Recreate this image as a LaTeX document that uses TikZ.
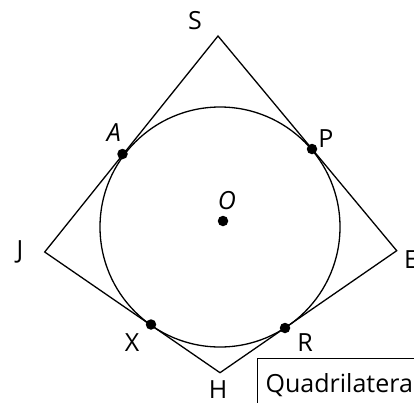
\documentclass[tikz,border=0pt]{standalone}
\usepackage{fontspec}
\setmainfont{Open Sans}
\usepackage{tikz}
\usetikzlibrary{positioning}
\begin{document}
\begin{tikzpicture}[
    x=1pt, y=-1pt,
    side/.style={line width=1.3pt},
    touch/.style={circle, fill=black, inner sep=0pt, minimum size=10.5pt},
    vname/.style={font=\fontsize{25}{30}\selectfont, inner sep=0pt},
    caption/.style={draw, line width=1.3pt, anchor=north west, inner xsep=8pt, inner ysep=15pt, text width=220pt, align=left, font=\fontsize{25}{30}\selectfont}
]
\useasboundingbox (0,0) rectangle (414,402);
\clip (0,0) rectangle (414,402);
\coordinate (S) at (218,36);
\coordinate (E) at (396.7,250.7);
\coordinate (H) at (220,372.7);
\coordinate (J) at (44.7,252);
\coordinate (cen) at (220,227);
\draw[side] (S) -- (E) -- (H) -- (J) -- cycle;
\draw[side] (cen) circle[radius=120];
\node[touch] (A) at (122.5,154) {};
\node[touch] (P) at (312,149) {};
\node[touch] (X) at (151,324.5) {};
\node[touch] (R) at (285,328) {};
\node[touch] (O) at (223,221) {};
\node[vname] (lS) at (195,20.5) {S};
\node[vname] (lE) at (411,260) {E};
\node[vname] (lH) at (218,390) {H};
\node[vname] (lJ) at (20,252) {J};
\node[vname] (lA) at (114,133) {\itshape A};
\node[vname] (lP) at (326,139) {P};
\node[vname] (lX) at (132,343) {X};
\node[vname] (lR) at (305,343) {R};
\node[vname] (lO) at (227,201) {\itshape O};
\node[caption] (quad) at (257,358) {Quadrilateral};
\end{tikzpicture}
\end{document}
